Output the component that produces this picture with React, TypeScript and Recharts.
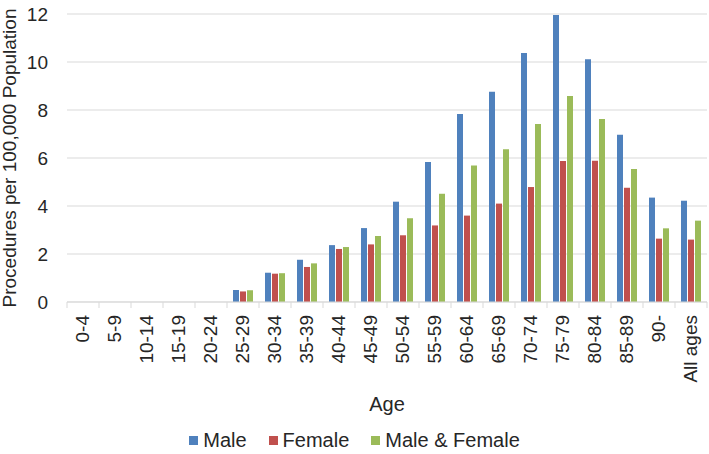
import { BarChart, Bar, XAxis, YAxis, CartesianGrid } from 'recharts';

const ageGroups = [
  '0-4', '5-9', '10-14', '15-19', '20-24', '25-29', '30-34', '35-39', '40-44', '45-49',
  '50-54', '55-59', '60-64', '65-69', '70-74', '75-79', '80-84', '85-89', '90-', 'All ages',
];
const maleRates = [0, 0, 0, 0, 0, 0.5, 1.22, 1.76, 2.37, 3.08, 4.18, 5.83, 7.83, 8.76, 10.38, 11.96, 10.11, 6.97, 4.35, 4.22];
const femaleRates = [0, 0, 0, 0, 0, 0.44, 1.18, 1.46, 2.21, 2.4, 2.78, 3.19, 3.6, 4.1, 4.79, 5.88, 5.89, 4.76, 2.64, 2.6];
const bothRates = [0, 0, 0, 0, 0, 0.49, 1.2, 1.61, 2.29, 2.75, 3.49, 4.51, 5.69, 6.36, 7.42, 8.58, 7.63, 5.54, 3.07, 3.39];
const yTicks = [0, 2, 4, 6, 8, 10, 12];

const seriesInfo = [
  { key: 'male', name: 'Male', color: '#4f81bd' },
  { key: 'female', name: 'Female', color: '#c0504d' },
  { key: 'both', name: 'Male & Female', color: '#9bbb59' },
];

const chartData = ageGroups.map((age, i) => ({
  age,
  male: maleRates[i],
  female: femaleRates[i],
  both: bothRates[i],
}));

const FONT = '"Liberation Sans", Arial, sans-serif';
const TEXT = '#262626';
const GRID = '#d9d9d9';
const BAND = 32;

const AgeTick = (props: any) => {
  const { x, y, payload, index } = props;
  const last = index === ageGroups.length - 1;
  return (
    <g>
      <line x1={x - BAND / 2} y1={302} x2={x - BAND / 2} y2={308} stroke={GRID} />
      {last && <line x1={x + BAND / 2} y1={302} x2={x + BAND / 2} y2={308} stroke={GRID} />}
      <text
        transform={`translate(${x + 6},${y}) rotate(-90)`}
        textAnchor="end"
        fill={TEXT}
        fontSize={19}
        fontFamily={FONT}
      >
        {payload.value}
      </text>
    </g>
  );
};

const YTitle = (props: any) => {
  const vb = props.viewBox || {};
  const cy = vb.y + vb.height / 2;
  return (
    <text
      x={16}
      y={cy}
      transform={`rotate(-90, 16, ${cy})`}
      textAnchor="middle"
      fill={TEXT}
      fontSize={19}
      fontFamily={FONT}
    >
      Procedures per 100,000 Population
    </text>
  );
};

const XTitle = (props: any) => {
  const vb = props.viewBox || {};
  return (
    <text x={vb.x + vb.width / 2} y={411} textAnchor="middle" fill={TEXT} fontSize={20} fontFamily={FONT}>
      Age
    </text>
  );
};

export default function App() {
  return (
    <div style={{ position: 'absolute', left: 0, top: 0, width: 709, height: 454, background: '#fff', fontFamily: FONT }}>
      <BarChart
        width={709}
        height={454}
        data={chartData}
        margin={{ top: 14, right: 2, left: 0, bottom: 0 }}
        barCategoryGap={6}
        barGap={1}
      >
        <CartesianGrid vertical={false} stroke={GRID} />
        <XAxis
          dataKey="age"
          height={152}
          interval={0}
          tick={<AgeTick />}
          tickLine={false}
          tickSize={0}
          tickMargin={13}
          axisLine={{ stroke: GRID }}
          label={<XTitle />}
        />
        <YAxis
          width={67}
          domain={[0, 12]}
          ticks={yTicks}
          axisLine={false}
          tickLine={false}
          tickSize={0}
          tickMargin={19}
          tick={{ fill: TEXT, fontSize: 19, fontFamily: FONT }}
          label={<YTitle />}
        />
        {seriesInfo.map((s) => (
          <Bar key={s.key} dataKey={s.key} name={s.name} fill={s.color} isAnimationActive={false} />
        ))}
      </BarChart>
      <div
        style={{
          position: 'absolute',
          top: 429,
          left: 0,
          width: 709,
          display: 'flex',
          justifyContent: 'center',
          gap: 22,
          fontSize: 20,
          color: TEXT,
        }}
      >
        {seriesInfo.map((s) => (
          <span key={s.key} style={{ display: 'flex', alignItems: 'center', gap: 5 }}>
            <span style={{ display: 'inline-block', width: 9, height: 9, background: s.color }} />
            {s.name}
          </span>
        ))}
      </div>
    </div>
  );
}
